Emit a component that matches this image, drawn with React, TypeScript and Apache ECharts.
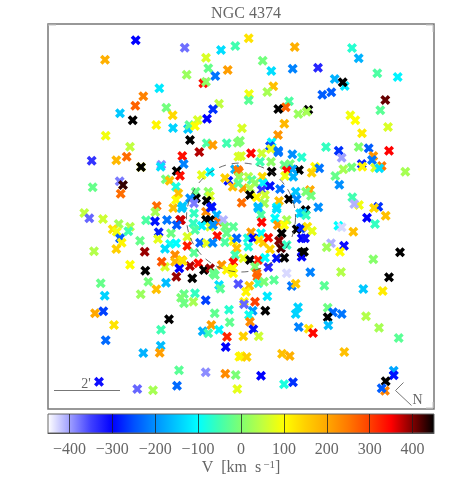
import React, { useEffect, useRef } from "react";
import * as echarts from "echarts";

const title = "NGC 4374";
const tickValues = [-400, -300, -200, -100, 0, 100, 200, 300, 400];
const colorScale = ["#ffffff", "#a0a0ff", "#4040ff", "#0000ff", "#0050ff", "#0090ff", "#00c8ff", "#00ffff", "#40ffb0", "#80ff70", "#c0ff40", "#ffff00", "#ffd000", "#ffa800", "#ff7800", "#ff4000", "#ff0000", "#800000", "#000000"];

// [x, y, velocity]; x and y in plot units
const north: number[][] = [
  [135.7,40.3,-300],[184.7,47.7,-375],[105,59.7,190],[221,50,-130],[235.3,46,-50],[206,57.7,70],[208.3,68.3,-20],[227.7,70,210],
  [186.7,74.7,20],[215.3,76,-220],[203.3,83.3,340],[206,81.7,10],[159.3,88.3,-120],[143.3,96.3,240],[135.3,105.7,270],[120,113.3,-150],
  [132.7,120.3,450],[166.3,107.7,-10],[172.7,115.3,140],[219,103.7,50],[213,109.3,-270],[207,118.7,-300],[197.7,120,70],[156.3,125,110],
  [188,129,-150],[173,128,-140],[189.3,125,-30],[195,126,100],
  [248.7,38.3,130],[294.7,47,190],[352,48,-70],[358.7,58.3,-170],[262.7,60.7,-10],[271.3,71,-130],[292.7,68.7,-210],[318,67.7,-330],
  [377.3,73.3,-40],[397.7,77,-110],[334.7,79,-170],[344.7,86,-120],[342.7,82.3,450],[331.3,92.3,-240],[322.3,94.7,-240],[273.3,86.3,170],
  [267.3,92,30],[249,94,90],[248.7,100.3,-30],[289,101.3,-40],[285.7,107.3,270],[278.3,109,450],[308.3,109.7,450],[306.7,111.7,30],
  [298.3,114,20],[385.3,100,410],[380.3,110.3,-30],[350.3,115.3,90],[355.3,120.3,100],[388,127,70],[362,133.3,120],[284.3,123.7,180],
  [278,135,220],[242,128.3,70],[240,140.7,0],[271.7,142.3,-110],[270,146,-250],[271,149,80],[278.3,150.7,-220],[326,147,-60],
  [338.7,150.7,-270],[358.7,147,0],[368.7,148.3,-240],[389,150.7,350],
];
const west: number[][] = [
  [105.7,135.7,90],[130,146.7,50],[126.7,156.7,260],[116.3,160.3,180],[91.7,160.7,-340],[141,167,100],[141,167,450],[161.3,164.7,-390],
  [160.7,166.7,-130],[165.7,179.3,-10],[169.7,180.7,170],[92.7,187.3,-20],[119.7,181.3,-380],[123,185,430],[120.7,193.7,260],[156.7,206,260],
  [155.3,212,30],[84.3,213,50],[89.3,218.3,-370],[103,219,60],[146,220.3,-40],[155,221.3,-290],[167,220,-220],[118.7,224,25],[130,226.7,40],
  [112.7,229.3,130],[116.7,231.7,90],[128.3,231.3,-50],[158.7,232.3,-280],[171,233.3,-15],[120,238.3,-240],[121.7,242.7,110],[140,240.7,-20],
  [158,239,80],[170,244,-90],[165,248.7,-130],[116.3,249,150],[94,251.3,40],[144.7,251.7,390],
];
const centreNorth: number[][] = [
  [190,140,450],[182.3,156,340],[199.3,152,380],[183.7,164,-210],[176.7,171,450],[180,175.7,340],[201.7,175,80],[210,172,-110],[176,186.7,-80],
  [178.3,193.3,170],[176,200,100],[195.7,191.7,-20],[208.3,191.7,10],[210,196,70],[196,198.3,450],[190,198.3,-200],[194,203.3,-380],
  [206.7,200.7,450],[211.7,206.7,-290],[182.7,206,-150],[228.3,180.7,-290],[225,178,150],[232.7,186.7,170],[235,169.3,-170],[238,170,250],
  [206.7,143.3,-40],[212.7,145,210],[226.7,143.3,-50],[238.3,156.7,70],
  [237.7,142.7,0],[241,156,70],[251,153.3,345],[261.7,153.3,60],[278.3,152.3,-220],[292.3,154.3,-200],[301.7,157.3,-70],[271,161.7,10],
  [260,161.7,-50],[271.7,171.7,450],[284.3,165,-20],[290,164,-10],[299,170,450],[292.3,169.3,-180],[286.7,170.7,345],[285,176,90],[293.3,176.7,-170],
  [239,171.7,250],[248.3,176.7,40],[239,176.7,20],[262.3,176.7,140],[251.7,180,-30],[243.3,188.3,210],[255,183.3,10],[263,183,-110],
  [238.3,183.3,-30],[261.7,190,-340],[270,186,-290],[280,189,-220],[250,188.3,40],[250,195,450],[256.7,197.3,110],[265,195,60],[241.7,202.7,260],
  [264.3,203.3,25],[279,201,170],[289,199,450],[295.7,191.7,-150],[296.7,199.3,-200],[258,206.7,-160],[276.7,207.3,-110],
];
const centreSouth: number[][] = [
  [173.3,208,170],[181.7,208.3,-150],[181,220,370],[180,220,370],[176.7,225,-240],[206,211.7,230],[210.7,207.7,-290],[216.7,215,-170],[218.3,221.7,260],
  [223.3,220,-410],[206,220,450],[210,220,450],[210,226.7,70],[213,225,-200],[201.7,225.7,-110],[193.3,223.3,-60],[194,213.3,-60],[195,230,-40],
  [187.3,236.7,70],[225,226.7,-10],[233.3,226.7,-30],[226.7,233.3,-20],[217.3,236,340],[200,242.7,-240],[206.7,243.3,80],[212.7,242.7,-210],
  [225,242.3,-40],[233.3,241,110],[236.7,238.3,-230],[236.7,248.3,170],[235,255,-50],[176,243.3,-100],[187.3,246,330],[194,252.7,-30],[175,255,230],
  [175,261.7,180],[181.7,260,150],[190,266,380],[198.3,263.3,340],[179.3,268.3,-300],[204,270,450],[210,268.3,390],[221.7,265,220],[233.3,262.3,340],
  [226.7,270,110],[232.7,268.3,100],[233.3,273.3,100],[213.3,273,-20],[215,275,-20],
  [258.3,208.3,-160],[276.7,209,-130],[261,215,-40],[261.7,222.3,345],[275,218.3,-100],[286.7,220,30],[300,213.3,-130],[277.7,225,220],[284.3,225,100],
  [300.7,228.3,-240],[296.7,229.3,450],[281.7,233.3,450],[251,232.3,210],[261,233.3,-100],[247.7,238.3,-80],[253.3,238.3,-300],[259,240,120],
  [263.3,242.7,160],[268.3,237.7,340],[270,249.3,150],[279,240.7,400],[281,248.3,420],[286.7,245,-60],[301.7,238.3,-300],[248.3,246.7,-80],
  [243.3,258.3,80],[250,260,450],[258.3,260,320],[265,257.7,-100],[276.7,258.3,-290],[284.3,257.7,450],[255,266.7,0],[268.3,267.3,-330],
  [301.7,252.7,450],[301.7,256.7,-300],[286.7,273.3,-430],[256.7,273.3,260],
];
const east: number[][] = [
  [341.7,157.7,-400],[373.3,156,220],[372,160,-220],[381.7,166,250],[375,167.7,70],[379.3,168.3,-130],[361.7,164,-280],[362.3,166.7,110],[351.7,167.3,-10],
  [343.3,169.3,30],[335.3,176,-20],[315,166.7,100],[319.3,168.3,-220],[311.7,172.7,150],[405.3,171.7,30],[339.3,184.7,-200],[310,190,200],[306,191.7,-5],
  [311,195.7,-10],[352.3,197.3,-50],[359,205,90],[354.3,204,-410],[378.3,206.7,-270],[374,208,140],[385.7,215.7,170],[367,217.7,-300],[375,224,-60],
  [318.3,207.3,-200],[305.7,210,450],[302.7,212.7,-150],[306,215.3,-60],[338.3,225.7,-100],[341.7,227.3,-430],[353.3,231.7,170],[301.7,227.7,-280],
  [307.3,226.7,130],[312,231,80],[305,238.3,-310],[331,243.3,-410],[326.7,247.3,25],[344,245.7,-310],[340,251.7,100],[304,251.7,450],[400,252.3,450],
  [373.3,259.3,5],[310.3,272.3,-210],[341,272,40],[389,277.3,450],
];
const south: number[][] = [
  [130,264.7,100],[145.3,270.7,450],[165,266.7,70],[161.7,261.7,280],[182.7,261,130],[176.3,276.7,390],[192.3,278.3,450],[100.7,283.3,-20],[104.7,295.7,-140],
  [148.3,281.7,-10],[166,282.7,-160],[156.3,289.3,170],[140.7,294.3,20],[103.3,311.3,-260],[95,313.3,200],[114,325,130],[105.7,340.3,-230],[184,294,-20],
  [195,293.3,-60],[181,297.7,-5],[184,303.3,-15],[193.3,301.7,30],[205.7,300.3,-260],[219,285,-130],[220.3,288.7,-30],[238.3,284,-360],[214.7,313.3,-25],
  [229,309.7,-70],[229.7,322.3,-25],[169,319.3,450],[161,329.7,-50],[211.3,325,210],[202.7,331.3,-170],[208.3,333.3,-50],[219,329.7,-110],[227,336.7,320],
  [160.7,345.7,-160],[159.7,352.7,210],[143.3,353,-170],[225.7,347,-300],[239.3,356.7,110],[179,370.3,-30],[205.7,372.3,-390],[225.3,373.7,230],[235.7,375,-5],
  [99,381.7,-310],[137.3,389,-370],[153,390.3,30],[177,385.7,-230],[237.3,389,80],
  [257.3,276.7,270],[249.3,285.7,170],[258.3,283.3,-70],[264,281.7,-5],[274,280,-30],[291.7,286,-220],[295.7,283.7,160],[324.3,285.7,-30],[363.3,289,-150],
  [382.7,291,120],[246,291.7,110],[267.3,296.3,-120],[286,298.7,-450],[255,301.7,300],[244,301.7,110],[244,304.3,-370],[252.7,310.7,-190],[265.3,310.7,450],
  [298,307.3,-140],[295.7,314,-140],[327.7,307.7,-15],[333,312.3,-230],[341.7,314,-220],[327.7,317.3,450],[366,316.3,40],[328.3,325.3,-160],[379,327.7,30],
  [398.7,338,-30],[249,315,-90],[250,321.7,230],[253.3,329.3,-290],[298.7,327,-210],[308.7,328.7,130],[313,333,345],[243.3,336.3,150],[258.7,336.3,60],
  [282,353.7,170],[289.7,356,190],[344.3,352,170],[241,356,110],[246.7,357,150],[261,375.7,-300],[284,384.3,-80],[293,382.3,-270],
  [393.7,370.7,-180],[393.7,375.3,-290],[385.7,381.3,450],[385,390.7,240],[381.7,388.3,-240],
];
const points = [...north, ...west, ...centreNorth, ...centreSouth, ...east, ...south];

const CROSS = "path://M2.5 0L5 2.5L7.5 0L10 2.5L7.5 5L10 7.5L7.5 10L5 7.5L2.5 10L0 7.5L2.5 5L0 2.5Z";
const FONT = "'Liberation Serif', serif";
const INK = "#666666";

export default function App() {
  const ref = useRef<HTMLDivElement>(null);
  useEffect(() => {
    const chart = echarts.init(ref.current!, null, { renderer: "svg" });
    const gradientStops = colorScale.map((color, i) => ({ offset: i / (colorScale.length - 1), color }));
    const line = (x1: number, y1: number, x2: number, y2: number, w = 1, stroke = "#777") => ({
      type: "line", shape: { x1, y1, x2, y2 }, z: 100, silent: true,
      style: { stroke, lineWidth: w },
    });
    chart.setOption({
      animation: false,
      title: {
        text: title, left: 241, top: -1, textAlign: "center",
        textStyle: { fontFamily: FONT, fontSize: 16, fontWeight: "normal", color: INK },
      },
      grid: [
        { left: 48, top: 24, width: 386, height: 385, show: true, borderColor: "#777", borderWidth: 1.5, backgroundColor: "#fff" },
        { left: 48, top: 414, width: 386, height: 19, show: false },
      ],
      xAxis: [
        { gridIndex: 0, type: "value", min: 48, max: 434, show: false },
        {
          gridIndex: 1, type: "value", min: -450, max: 450, z: 10,
          splitLine: { show: false },
          axisLine: { show: true, lineStyle: { color: "#555", width: 1 } },
          axisTick: { show: true, inside: true, length: 19, customValues: tickValues, lineStyle: { color: "rgba(30,30,30,0.75)", width: 1 } },
          axisLabel: {
            customValues: tickValues, margin: 7, fontFamily: FONT, fontSize: 16, color: INK,
            formatter: (v: number) => String(v).replace("-", "\u2212"),
          },
          name: "{a|V  [km  s}{b|\u22121}{a|]}", nameLocation: "middle", nameGap: 25,
          nameTextStyle: {
            rich: {
              a: { fontFamily: FONT, fontSize: 16, color: INK },
              b: { fontFamily: FONT, fontSize: 11, color: INK, padding: [0, 0, 6, 2] },
            },
          },
        },
      ],
      yAxis: [
        { gridIndex: 0, type: "value", min: 24, max: 409, inverse: true, show: false },
        { gridIndex: 1, type: "value", min: 0, max: 1, show: false },
      ],
      visualMap: {
        type: "continuous", show: false, seriesIndex: 0, dimension: 2, min: -450, max: 450,
        inRange: { color: colorScale },
      },
      series: [
        {
          type: "scatter", xAxisIndex: 0, yAxisIndex: 0, data: points,
          symbol: CROSS, symbolSize: 10, silent: true, itemStyle: { opacity: 1 },
        },
        {
          type: "custom", xAxisIndex: 1, yAxisIndex: 1, data: [[-450, 450]], silent: true, z: 1,
          renderItem: (_: unknown, api: any) => {
            const a = api.coord([api.value(0), 1]);
            const b = api.coord([api.value(1), 0]);
            return {
              type: "rect",
              shape: { x: a[0], y: a[1], width: b[0] - a[0], height: b[1] - a[1] },
              style: {
                fill: new echarts.graphic.LinearGradient(0, 0, 1, 0, gradientStops),
                stroke: "#666", lineWidth: 1,
              },
            };
          },
        },
      ],
      graphic: [
        { type: "circle", shape: { cx: 241, cy: 217.5, r: 54.5 }, z: 100, silent: true, style: { fill: "none", stroke: "#444", lineWidth: 0.8, lineDash: [7, 6] } },
        line(54, 390.5, 120, 390.5),
        { type: "text", x: 86, y: 383, z: 100, silent: true, style: { text: "2'", fontFamily: FONT, fontSize: 14, fill: INK, align: "center", verticalAlign: "middle" } },
        line(403.5, 382.5, 395.5, 390.5),
        line(395.5, 390.5, 411.5, 405.5),
        { type: "text", x: 417.5, y: 399.5, z: 100, silent: true, style: { text: "N", fontFamily: FONT, fontSize: 14, fill: INK, align: "center", verticalAlign: "middle" } },
        line(48, 25, 56, 25, 1, "#c4c4c4"),
        line(426, 25, 433, 25, 1, "#c4c4c4"),
        line(433, 25, 433, 32, 1, "#c4c4c4"),
        line(426, 408, 433, 408, 1, "#c4c4c4"),
        line(433, 402, 433, 408, 1, "#c4c4c4"),
      ],
    });
    return () => chart.dispose();
  }, []);
  return <div ref={ref} style={{ position: "fixed", left: 0, top: 0, width: 452, height: 482 }} />;
}
